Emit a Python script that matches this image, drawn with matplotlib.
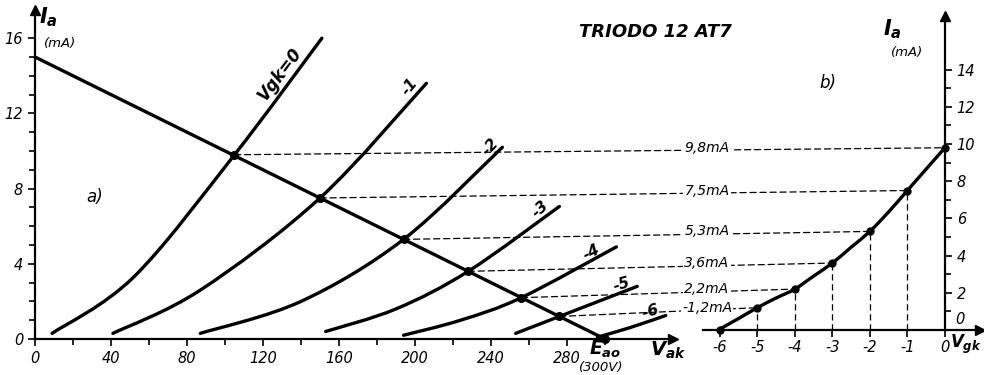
#!/usr/bin/env python
# triode 12AT7: a) anode characteristics with load line, b) transfer curve

import matplotlib
matplotlib.use('Agg')
from matplotlib import pyplot as plt
from matplotlib import transforms
from matplotlib.patches import ConnectionPatch, PathPatch
from matplotlib.path import Path

plt.rcParams['font.family'] = 'DejaVu Sans'
plt.rcParams['font.style'] = 'italic'
plt.rcParams['axes.unicode_minus'] = False
plt.rcParams['mathtext.fontset'] = 'custom'
plt.rcParams['mathtext.it'] = 'DejaVu Sans:italic:bold'
plt.rcParams['mathtext.rm'] = 'DejaVu Sans:italic:bold'

# a) Ia (mA) vs Vak (V), one curve per grid voltage
va_g0 = [9, 52, 105, 151]
ia_g0 = [0.3, 3.3, 9.8, 16.0]
va_g1 = [41, 87, 150, 206]
ia_g1 = [0.3, 2.6, 7.5, 13.6]
va_g2 = [87, 140, 194, 246]
ia_g2 = [0.3, 2.0, 5.3, 10.2]
va_g3 = [153, 190, 228, 276]
ia_g3 = [0.4, 1.6, 3.6, 7.05]
va_g4 = [194, 224, 256, 306]
ia_g4 = [0.2, 1.0, 2.2, 4.9]
va_g5 = [253, 276, 317]
ia_g5 = [0.3, 1.2, 2.8]
va_g6 = [296, 313, 332]
ia_g6 = [0.1, 0.6, 1.25]

# load line from Ia = 15 mA to Eao = 300 V
load_va = [0, 300]
load_ia = [15, 0]

# operating points
op_vg = [0, -1, -2, -3, -4, -5, -6]
op_va = [105, 150, 194, 228, 256, 276, 300]
op_ia = [9.8, 7.5, 5.3, 3.6, 2.2, 1.2, 0.0]
op_text = ['9,8mA', '7,5mA', '5,3mA', '3,6mA', '2,2mA', '-1,2mA', None]

# b) transfer curve Ia vs Vgk
b_vg = [-6, -5.5, -5, -4.5, -4, -3.5, -3, -2.5, -2, -1.5, -1, -0.5, 0]
b_ia = [0.05, 0.62, 1.2, 1.72, 2.2, 2.9, 3.6, 4.45, 5.3, 6.35, 7.5, 8.65, 9.8]

curves = [(va_g0, ia_g0), (va_g1, ia_g1), (va_g2, ia_g2), (va_g3, ia_g3),
          (va_g4, ia_g4), (va_g5, ia_g5), (va_g6, ia_g6)]
curve_labels = [('Vgk=0', 129, 14.1, 53), ('-1', 197, 13.45, 50),
                ('-2', 239.5, 10.2, 45), ('-3', 266, 6.9, 40),
                ('-4', 293, 4.6, 25), ('-5', 309, 2.9, 15),
                ('-6', 324, 1.45, 15)]


def smooth(ax, xs, ys, **kw):
    # catmull-rom through the read points, drawn as bezier segments
    pts = list(zip(xs, ys))
    n = len(pts)
    verts = [pts[0]]
    codes = [Path.MOVETO]
    for i in range(n - 1):
        p0 = pts[i - 1] if i > 0 else pts[i]
        p1, p2 = pts[i], pts[i + 1]
        p3 = pts[i + 2] if i + 2 < n else pts[i + 1]
        c1 = (p1[0] + (p2[0] - p0[0]) / 6., p1[1] + (p2[1] - p0[1]) / 6.)
        c2 = (p2[0] - (p3[0] - p1[0]) / 6., p2[1] - (p3[1] - p1[1]) / 6.)
        verts += [c1, c2, p2]
        codes += [Path.CURVE4] * 3
    ax.add_patch(PathPatch(Path(verts, codes), fill=False, clip_on=False, **kw))


W, H = 984., 375.
fig = plt.figure(figsize=(9.84, 3.75), dpi=100)

# ---- a) ----
ax1 = fig.add_axes([35/W, 36/H, 638/W, 329/H])
ax1.set_xlim(0, 335.8)
ax1.set_ylim(0, 17.5)
ax1.patch.set_visible(False)
for s in ['top', 'right']:
    ax1.spines[s].set_visible(False)
for s in ['left', 'bottom']:
    ax1.spines[s].set_linewidth(1.6)
ax1.plot(1, 0, '>k', ms=7, transform=ax1.transAxes, clip_on=False)
ax1.plot(0, 1, '^k', ms=7, transform=ax1.transAxes, clip_on=False)

ax1.set_xticks(range(0, 281, 40))
ax1.set_xticks(range(20, 301, 20), minor=True)
ax1.set_yticks(range(0, 17, 4))
ax1.set_yticks(range(0, 17), minor=True)
ax1.tick_params(which='both', direction='out', width=1.2, labelsize=10.5)
ax1.tick_params(which='major', length=5)
ax1.tick_params(which='minor', length=4)
for lbl in ax1.get_xticklabels() + ax1.get_yticklabels():
    lbl.set_style('italic')

for va, ia in curves:
    smooth(ax1, va, ia, color='k', lw=2.4, capstyle='round')
ax1.plot(load_va, load_ia, color='k', lw=2.4, clip_on=False)
ax1.plot(op_va, op_ia, 'o', color='k', ms=5.5, clip_on=False)

for txt, x, y, rot in curve_labels:
    ax1.text(x, y, txt, rotation=rot, ha='center', va='center',
             fontsize=12 if txt.startswith('V') else 11, fontweight='bold')

ax1.text(7, 17.1, '$I_a$', ha='center', va='center', fontsize=15)
ax1.text(13, 15.7, '(mA)', ha='center', va='center', fontsize=9.5)
ax1.text(31.6, 7.55, 'a)', ha='center', va='center', fontsize=12)
ax1.text(300, -0.55, '$E_{ao}$', ha='center', va='center', fontsize=13.5)
ax1.text(298, -1.5, '(300V)', ha='center', va='center', fontsize=9.5)
ax1.text(333, -0.6, '$V_{ak}$', ha='center', va='center', fontsize=14)

fig.text(655/W, 1 - 32/H, 'TRIODO 12 AT7', ha='center', va='center',
         fontsize=13, fontweight='bold', style='italic')

# ---- b) ----
ax2 = fig.add_axes([703/W, 45/H, 276.75/W, 314.3/H])
ax2.set_xlim(-6.45, 0.93)
ax2.set_ylim(0, 16.9)
ax2.patch.set_visible(False)
ax2.spines['left'].set_visible(False)
ax2.spines['top'].set_visible(False)
ax2.spines['right'].set_position(('data', 0))
ax2.spines['right'].set_linewidth(1.6)
ax2.spines['bottom'].set_linewidth(1.6)
ax2.yaxis.set_ticks_position('right')
ax2.plot(1, 0, '>k', ms=7, transform=ax2.transAxes, clip_on=False)
ax2.plot(0, 1, '^k', ms=7, transform=ax2.get_xaxis_transform(), clip_on=False)

ax2.set_xticks(range(-6, 1))
ax2.set_yticks(range(2, 15, 2))
ax2.set_yticks(range(1, 15), minor=True)
ax2.tick_params(which='both', direction='out', width=1.2, labelsize=10.5)
ax2.tick_params(which='major', length=5)
ax2.tick_params(which='minor', length=4)
ax2.tick_params(axis='x', pad=2)
for lbl in ax2.get_xticklabels() + ax2.get_yticklabels():
    lbl.set_style('italic')
ax2.text(0.27, 0.55, '0', ha='left', va='center', fontsize=10.5)

smooth(ax2, b_vg, b_ia, color='k', lw=2.4, capstyle='round')
ax2.plot(op_vg, op_ia, 'o', color='k', ms=5, clip_on=False)

ax2.text(-1.39, 16.2, '$I_a$', ha='center', va='center', fontsize=15)
ax2.text(-1.0, 14.9, '(mA)', ha='center', va='center', fontsize=9.5)
ax2.text(-3.12, 13.3, 'b)', ha='center', va='center', fontsize=12)
ax2.text(0.15, -0.75, '$V_{gk}$', ha='left', va='center', fontsize=12)

# dashed projections from a) to b)
lbl_tr = transforms.blended_transform_factory(fig.transFigure, ax2.transData)
for vg, va, ia, txt in zip(op_vg, op_va, op_ia, op_text):
    if txt is None:
        continue
    con = ConnectionPatch((va, ia), (vg, ia), coordsA=ax1.transData,
                          coordsB=ax2.transData, color='k', lw=0.9,
                          linestyle=(0, (5, 3)))
    fig.add_artist(con)
    if vg < 0:
        ax2.plot([vg, vg], [0, ia], color='k', lw=0.9, linestyle=(0, (5, 3)))
    fig.text(707/W, ia, txt, transform=lbl_tr, ha='center', va='center',
             fontsize=10, zorder=5,
             bbox=dict(facecolor='white', edgecolor='none', pad=1.0))

fig.savefig('out.png', dpi=100)
